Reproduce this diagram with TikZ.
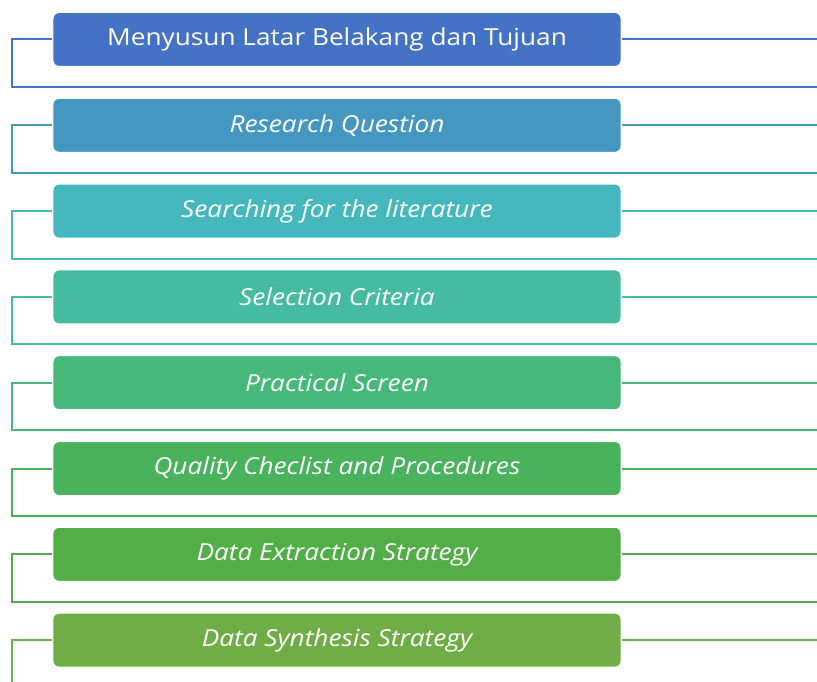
\documentclass[tikz,border=0pt]{standalone}
\usepackage{fontspec}
\setmainfont{Open Sans}[FakeStretch=1.12]
\definecolor{stepA}{HTML}{4472C4}
\definecolor{stepB}{HTML}{4397C0}
\definecolor{stepC}{HTML}{45B8BE}
\definecolor{stepD}{HTML}{45BB9F}
\definecolor{stepE}{HTML}{46B97A}
\definecolor{stepF}{HTML}{48B35C}
\definecolor{stepG}{HTML}{52AE47}
\definecolor{stepH}{HTML}{70AD47}
\begin{document}
\begin{tikzpicture}[x=1bp, y=-1bp,
  stepbox/.style={rectangle, rounded corners=6bp, draw=white, line width=1bp, minimum width=568bp, minimum height=54bp, text=white, font=\fontsize{23.5}{26}\selectfont},
  link/.style={line width=2bp}]
  \useasboundingbox (0,0) rectangle (817,682);
  % Nodes
  \foreach \t/\c [count=\i] in {Menyusun Latar Belakang dan Tujuan/stepA, \itshape Research Question/stepB, \itshape Searching for the literature/stepC, \itshape Selection Criteria/stepD, \itshape Practical Screen/stepE, \itshape Quality Checlist and Procedures/stepF, \itshape Data Extraction Strategy/stepG, \itshape Data Synthesis Strategy/stepH} {
    \pgfmathsetmacro\yc{39.5+85.8*(\i-1)}
    \node (b\i) [stepbox, fill=\c] at (337,\yc) {\t};
    \coordinate (l\i) at (12,\yc);
    \coordinate (r\i) at (817,\yc);
    % Lines
    \draw[link, \c] (b\i.east) -- (r\i);
    \ifnum\i<8
      \coordinate (d\i) at (12,\yc+47.5);
      \coordinate (e\i) at (817,\yc+47.5);
      \draw[link, \c] (b\i.west) -- (l\i) -- (d\i) -- (e\i);
    \else
      \coordinate (d\i) at (12,682);
      \draw[link, \c] (b\i.west) -- (l\i) -- (d\i);
    \fi
  }
\end{tikzpicture}
\end{document}
